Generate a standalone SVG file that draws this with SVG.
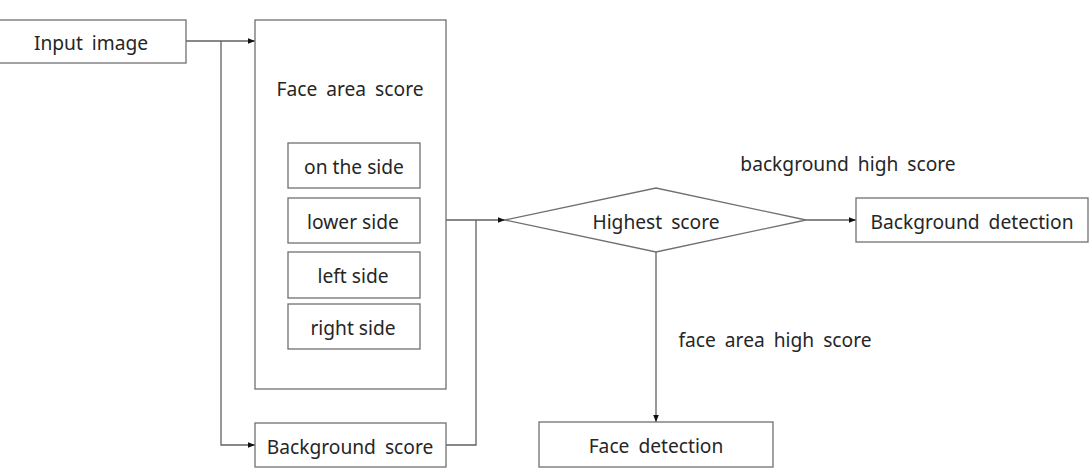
<svg xmlns="http://www.w3.org/2000/svg" width="1090" height="473" viewBox="0 0 1090 473">
<defs>
<style>
.box{fill:#fff;stroke:#707070;stroke-width:1.3}
.t{font-family:"Noto Sans","Open Sans",sans-serif;font-size:19.2px;fill:#262626;text-anchor:middle;dominant-baseline:central;word-spacing:4px}
.s{word-spacing:0}
.c{fill:none;stroke:#606060;stroke-width:1.3}
</style>
<marker id="ah" viewBox="0 0 10 10" refX="10" refY="5" markerWidth="7" markerHeight="7" markerUnits="userSpaceOnUse" orient="auto">
<path d="M0,1 L10,5 L0,9 z" fill="#111"/>
</marker>
</defs>
<rect width="1090" height="473" fill="#fff"/>
<g id="connectors">
<path class="c" d="M186,41 H255" marker-end="url(#ah)"/>
<path class="c" d="M221,41 V445 H255" marker-end="url(#ah)"/>
<path class="c" d="M446,220 H505" marker-end="url(#ah)"/>
<path class="c" d="M446,445 H476 V220"/>
<path class="c" d="M806,220 H856" marker-end="url(#ah)"/>
<path class="c" d="M656,252 V422" marker-end="url(#ah)"/>
</g>
<g id="input-image">
<rect class="box" x="-1" y="20" width="187" height="43"/>
<text class="t" x="91" y="42">Input image</text>
</g>
<g id="face-area-score">
<rect class="box" x="255" y="20" width="191" height="369"/>
<text class="t" x="350" y="88">Face area score</text>
</g>
<g id="on-the-side">
<rect class="box" x="288" y="143" width="132" height="45"/>
<text class="t s" x="354" y="166">on the side</text>
</g>
<g id="lower-side">
<rect class="box" x="288" y="198" width="132" height="45"/>
<text class="t s" x="353" y="221">lower side</text>
</g>
<g id="left-side">
<rect class="box" x="288" y="252" width="132" height="46"/>
<text class="t s" x="353" y="275">left side</text>
</g>
<g id="right-side">
<rect class="box" x="288" y="304" width="132" height="45"/>
<text class="t s" x="353" y="327">right side</text>
</g>
<g id="background-score">
<rect class="box" x="255" y="423" width="191" height="44"/>
<text class="t" x="350" y="446">Background score</text>
</g>
<g id="highest-score">
<polygon class="box" points="505,220 656,188 806,220 656,252"/>
<text class="t" x="656" y="221">Highest score</text>
</g>
<g id="background-detection">
<rect class="box" x="856" y="198" width="232" height="44"/>
<text class="t" x="972" y="221">Background detection</text>
</g>
<g id="face-detection">
<rect class="box" x="539" y="422" width="234" height="45"/>
<text class="t" x="656" y="445">Face detection</text>
</g>
<g id="labels">
<text class="t" x="848" y="163">background high score</text>
<text class="t" x="775" y="339">face area high score</text>
</g>
</svg>
